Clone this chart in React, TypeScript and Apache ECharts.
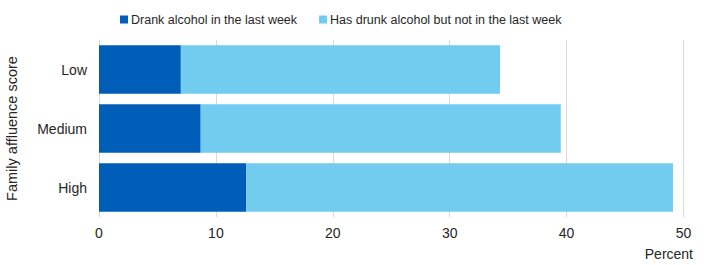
import React, { useEffect, useRef } from "react";
import * as echarts from "echarts";

const categories = ["Low", "Medium", "High"];
const drankLastWeek = [7.0, 8.7, 12.6];
const drunkNotLastWeek = [27.3, 30.8, 36.5];
const seriesNames = ["Drank alcohol in the last week", "Has drunk alcohol but not in the last week"];
const xAxisTitle = "Percent";
const yAxisTitle = "Family affluence score";

const FONT = "Liberation Sans, Arial, sans-serif";

export default function App() {
  const ref = useRef<HTMLDivElement>(null);
  useEffect(() => {
    const chart = echarts.init(ref.current!, null, { renderer: "svg" });
    chart.setOption({
      animation: false,
      textStyle: { fontFamily: FONT, color: "#262626" },
      legend: {
        top: 8,
        left: 115,
        itemWidth: 8,
        itemHeight: 8,
        itemGap: 22,
        icon: "rect",
        textStyle: { fontFamily: FONT, fontSize: 12.5, color: "#262626", padding: [0, 0, 0, -2] },
        data: seriesNames,
      },
      grid: {
        left: 99,
        top: 40,
        width: 584.5,
        height: 177,
        containLabel: false,
        outerBoundsMode: "none",
      },
      xAxis: {
        type: "value",
        min: 0,
        max: 50,
        interval: 10,
        axisLine: { show: false },
        axisTick: { show: false },
        axisLabel: { fontFamily: FONT, fontSize: 14, color: "#262626", margin: 9 },
        splitLine: { show: true, lineStyle: { color: "#d9d9d9", width: 1 } },
      },
      yAxis: {
        type: "category",
        data: categories,
        inverse: true,
        axisLine: { show: false },
        axisTick: { show: false },
        axisLabel: { fontFamily: FONT, fontSize: 14, color: "#262626", margin: 12 },
        name: yAxisTitle,
        nameLocation: "middle",
        nameRotate: 90,
        nameGap: 80,
        nameTextStyle: { fontFamily: FONT, fontSize: 14.5, color: "#262626" },
      },
      graphic: [
        {
          type: "text",
          right: 15,
          top: 247,
          style: { text: xAxisTitle, font: `14px ${FONT}`, fill: "#262626" },
        },
      ],
      series: [
        {
          name: seriesNames[0],
          type: "bar",
          stack: "total",
          data: drankLastWeek,
          barCategoryGap: "17.5%",
          itemStyle: { color: "#005EB8" },
        },
        {
          name: seriesNames[1],
          type: "bar",
          stack: "total",
          data: drunkNotLastWeek,
          barCategoryGap: "17.5%",
          itemStyle: { color: "#71CCEF" },
        },
      ],
    });
    return () => chart.dispose();
  }, []);
  return (
    <div
      ref={ref}
      style={{ position: "absolute", left: 0, top: 0, width: 708, height: 265 }}
    />
  );
}
